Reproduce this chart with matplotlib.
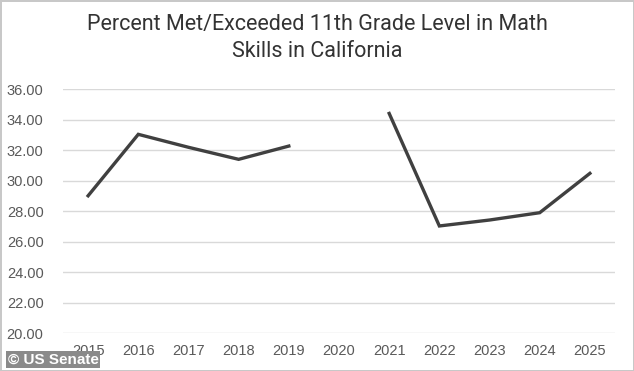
import numpy as np
import matplotlib
matplotlib.use("Agg")
import matplotlib.pyplot as plt

# dados (2020 sem valor)
anos = ['2015', '2016', '2017', '2018', '2019', '2020',
        '2021', '2022', '2023', '2024', '2025']
percentual = [29.0, 33.03, 32.18, 31.39, 32.26, np.nan,
              34.4, 27.02, 27.41, 27.89, 30.47]
y_ticks = [20, 22, 24, 26, 28, 30, 32, 34, 36]

titulo = 'Percent Met/Exceeded 11th Grade Level in Math\nSkills in California'

fig = plt.figure(figsize=(6.34, 3.71), dpi=100)
fig.patch.set_edgecolor('#c8c8c8')
fig.patch.set_linewidth(2)
ax = fig.add_axes([0.0994, 0.1024, 0.8706, 0.6576])

x = np.arange(len(anos))
ax.plot(x, percentual, color='#404040', linewidth=2.4, solid_joinstyle='miter')

ax.set_xlim(-0.5, len(anos) - 0.5)
ax.set_ylim(20, 36)
ax.set_yticks(y_ticks)
ax.set_yticklabels([f'{v:.2f}' for v in y_ticks])
ax.set_xticks(x)
ax.set_xticklabels(anos)

ax.grid(axis='y', color='#d9d9d9', linewidth=1)
ax.set_axisbelow(True)
for s in ax.spines.values():
    s.set_visible(False)
ax.tick_params(length=0, labelsize=10.5, labelcolor='#595959', pad=8)
for lbl in ax.get_xticklabels() + ax.get_yticklabels():
    lbl.set_fontfamily('Liberation Sans')
ax.tick_params(axis='y', pad=14)

fig.text(0.5, 0.897, titulo, ha='center', va='center', fontsize=15.5,
         color='#333333', family='Roboto', linespacing=1.4)

fig.text(0.012, 0.012, '© US Senate', ha='left', va='bottom', fontsize=11,
         color='white', weight='bold', family='Liberation Sans',
         bbox=dict(boxstyle='square,pad=0.12', facecolor='#8a8a8a',
                   edgecolor='none'))

fig.savefig('out.png', dpi=100)
